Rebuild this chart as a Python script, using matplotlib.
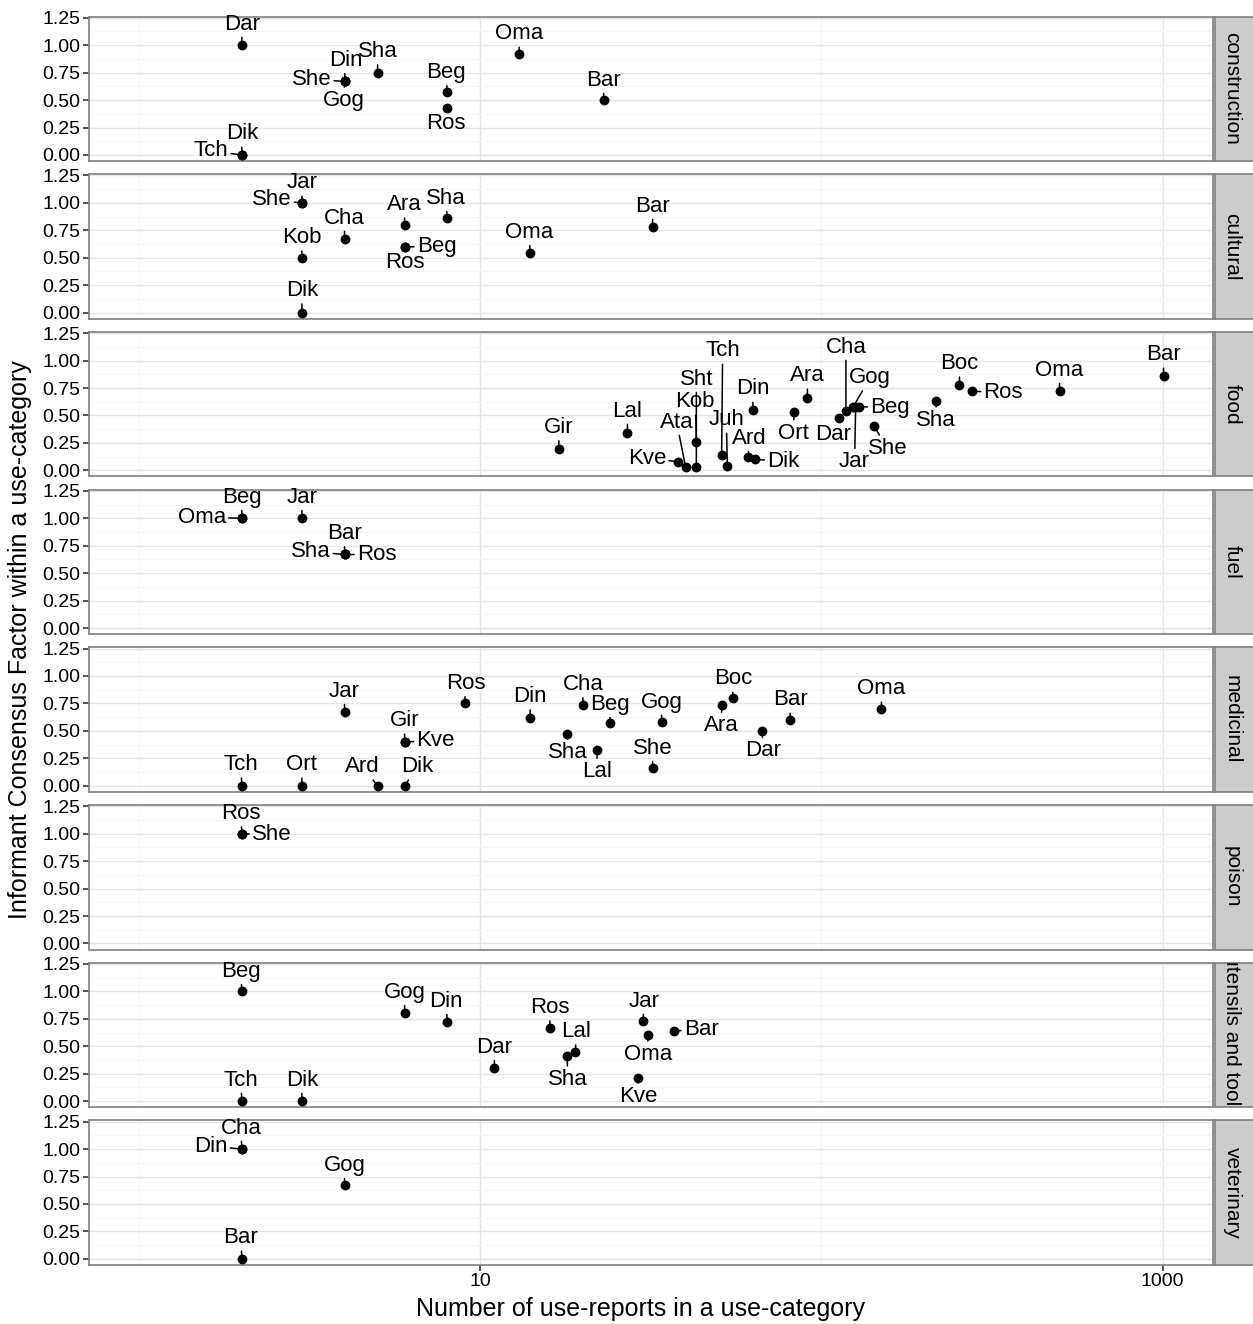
import numpy as np
import matplotlib.pyplot as plt
from matplotlib.ticker import NullFormatter

plt.rcParams['font.family'] = ['Liberation Sans', 'DejaVu Sans']

cats = ['construction', 'cultural', 'food', 'fuel', 'medicinal', 'poison',
        'utensils and tools', 'veterinary']

# construction
con_lab = ['Dar', 'Dik', 'Tch', 'She', 'Din', 'Gog', 'Sha', 'Beg', 'Ros', 'Oma', 'Bar']
con_n = [2, 2, 2, 4, 4, 4, 5, 8, 8, 13, 23]
con_icf = [1.0, 0.0, 0.0, 0.67, 0.67, 0.67, 0.75, 0.57, 0.43, 0.92, 0.5]

# cultural
cul_lab = ['Jar', 'She', 'Cha', 'Kob', 'Dik', 'Ara', 'Ros', 'Beg', 'Sha', 'Oma', 'Bar']
cul_n = [3, 3, 4, 3, 3, 6, 6, 6, 8, 14, 32]
cul_icf = [1.0, 1.0, 0.67, 0.5, 0.0, 0.8, 0.6, 0.6, 0.86, 0.54, 0.78]

# food
foo_lab = ['Gir', 'Lal', 'Kve', 'Ata', 'Kob', 'Sht', 'Tch', 'Juh', 'Din', 'Ard', 'Dik',
           'Ort', 'Ara', 'Dar', 'Cha', 'Gog', 'Beg', 'Jar', 'She', 'Sha', 'Boc', 'Ros',
           'Oma', 'Bar']
foo_n = [17, 27, 38, 40, 43, 43, 51, 53, 63, 61, 64,
         83, 91, 113, 118, 124, 129, 126, 143, 217, 254, 277,
         499, 1007]
foo_icf = [0.19, 0.34, 0.08, 0.03, 0.26, 0.03, 0.14, 0.04, 0.55, 0.12, 0.10,
           0.53, 0.66, 0.48, 0.54, 0.58, 0.58, 0.58, 0.40, 0.63, 0.78, 0.72,
           0.72, 0.86]

# fuel
fue_lab = ['Beg', 'Oma', 'Jar', 'Bar', 'Sha', 'Ros']
fue_n = [2, 2, 3, 4, 4, 4]
fue_icf = [1.0, 1.0, 1.0, 0.67, 0.67, 0.67]

# medicinal
med_lab = ['Tch', 'Ort', 'Ard', 'Dik', 'Jar', 'Gir', 'Kve', 'Ros', 'Din', 'Sha', 'Lal',
           'Cha', 'Beg', 'She', 'Gog', 'Ara', 'Boc', 'Dar', 'Bar', 'Oma']
med_n = [2, 3, 5, 6, 4, 6, 6, 9, 14, 18, 22,
         20, 24, 32, 34, 51, 55, 67, 81, 150]
med_icf = [0.0, 0.0, 0.0, 0.0, 0.67, 0.4, 0.4, 0.75, 0.62, 0.47, 0.33,
           0.74, 0.57, 0.16, 0.58, 0.74, 0.8, 0.5, 0.6, 0.7]

# poison
poi_lab = ['Ros', 'She']
poi_n = [2, 2]
poi_icf = [1.0, 1.0]

# utensils and tools
ute_lab = ['Beg', 'Tch', 'Dik', 'Gog', 'Din', 'Dar', 'Ros', 'Sha', 'Lal', 'Jar', 'Oma',
           'Bar', 'Kve']
ute_n = [2, 2, 3, 6, 8, 11, 16, 18, 19, 30, 31, 37, 29]
ute_icf = [1.0, 0.0, 0.0, 0.8, 0.72, 0.3, 0.67, 0.41, 0.45, 0.73, 0.6, 0.64, 0.21]

# veterinary
vet_lab = ['Cha', 'Din', 'Gog', 'Bar']
vet_n = [2, 2, 4, 2]
vet_icf = [1.0, 1.0, 0.67, 0.0]

# label offsets in pixels (dx, dy up), mimicking the repelled labels
con_off = [(0, 21), (0, 21), (-31, 4), (-33, 2), (1, 21), (-1, -19), (0, 21), (-1, 20),
           (-1, -16), (0, 20), (0, 20)]
cul_off = [(0, 20), (-30, 3), (0, 21), (0, 20), (0, 22), (0, 20), (0, -16), (32, 0),
           (-1, 20), (-1, 21), (0, 21)]
foo_off = [(0, 22), (0, 22), (-31, 3), (-9, 45), (-1, 40), (0, 88), (1, 104), (-1, 46),
           (0, 21), (1, 19), (28, -2), (0, -21), (0, 22), (-6, -17), (0, 64), (17, 29),
           (31, -1), (-1, -55), (13, -22), (0, -19), (0, 21), (31, -1), (0, 21), (0, 21)]
fue_off = [(0, 21), (-40, 1), (0, 21), (0, 21), (-34, 3), (32, 0)]
med_off = [(-1, 21), (0, 21), (-15, 19), (13, 19), (0, 21), (0, 21), (31, 1), (1, 20),
           (0, 21), (0, -18), (0, -22), (0, 20), (0, 19), (0, 20), (0, 20), (0, -21),
           (0, 19), (1, -20), (0, 20), (0, 20)]
poi_off = [(-1, 20), (30, -1)]
ute_off = [(-1, 20), (-1, 21), (0, 21), (0, 21), (-1, 21), (0, 21), (0, 20), (0, -23),
           (1, 20), (1, 20), (0, -19), (27, 1), (0, -18)]
vet_off = [(-1, 21), (-31, 3), (0, 20), (-1, 21)]

panels = [(con_lab, con_n, con_icf, con_off),
          (cul_lab, cul_n, cul_icf, cul_off),
          (foo_lab, foo_n, foo_icf, foo_off),
          (fue_lab, fue_n, fue_icf, fue_off),
          (med_lab, med_n, med_icf, med_off),
          (poi_lab, poi_n, poi_icf, poi_off),
          (ute_lab, ute_n, ute_icf, ute_off),
          (vet_lab, vet_n, vet_icf, vet_off)]

W, H = 1253, 1324
fig = plt.figure(figsize=(W / 100, H / 100), dpi=100)

left, right = 89, 1213
top0, ph, step = 16.5, 144.5, 157.7
yticks = [0, 0.25, 0.5, 0.75, 1.0, 1.25]

for i, (lab, n, icf, off) in enumerate(panels):
    top = top0 + i * step
    ax = fig.add_axes([left / W, 1 - (top + ph) / H, (right - left) / W, ph / H])
    ax.set_xscale('log')
    ax.set_xlim(10 ** -0.147, 10 ** 3.148)
    ax.set_ylim(-0.055, 1.261)
    ax.set_yticks(yticks)
    ax.set_yticklabels(['%.2f' % v for v in yticks])
    ax.set_yticks([0.125, 0.375, 0.625, 0.875, 1.125], minor=True)
    ax.set_xticks([10, 1000])
    ax.set_xticks([1, 100], minor=True)
    ax.xaxis.set_minor_formatter(NullFormatter())
    ax.grid(which='major', color='#e5e5e5', lw=1.0)
    ax.grid(which='minor', color='#f5f5f5', lw=0.8)
    ax.set_axisbelow(True)
    for s in ax.spines.values():
        s.set_color('#7f7f7f')
        s.set_linewidth(1.2)
    ax.tick_params(which='major', length=4, width=1.2, color='#333333',
                   labelsize=14, pad=2)
    ax.tick_params(which='minor', length=0)
    if i < len(panels) - 1:
        ax.set_xticklabels([])
        ax.tick_params(axis='x', which='major', length=0)
    else:
        ax.set_xticklabels(['10', '1000'])

    ax.scatter(n, icf, s=50, color='black', linewidths=0, zorder=3)
    for name, xv, yv, (dx, dy) in zip(lab, n, icf, off):
        ax.annotate(name, (xv, yv), xytext=(dx, dy), textcoords='offset pixels',
                    ha='center', va='center', fontsize=16, zorder=4,
                    arrowprops=dict(arrowstyle='-', color='black', lw=1.1,
                                    shrinkA=0, shrinkB=0))

    # facet strip
    sax = fig.add_axes([1215 / W, 1 - (top + ph) / H, 40 / W, ph / H])
    sax.set_xticks([])
    sax.set_yticks([])
    sax.set_facecolor('#cccccc')
    for s in sax.spines.values():
        s.set_color('#7f7f7f')
        s.set_linewidth(1.2)
    sax.text(17 / 40, 0.5, cats[i], rotation=-90, ha='center', va='center',
             fontsize=15, transform=sax.transAxes, clip_on=True)

fig.text(20 / W, 1 - 640 / H, 'Informant Consensus Factor within a use-category',
         rotation=90, ha='center', va='center', fontsize=18)
fig.text(641 / W, 1 - 1309 / H, 'Number of use-reports in a use-category',
         ha='center', va='center', fontsize=18)

fig.savefig('out.png', dpi=100)
